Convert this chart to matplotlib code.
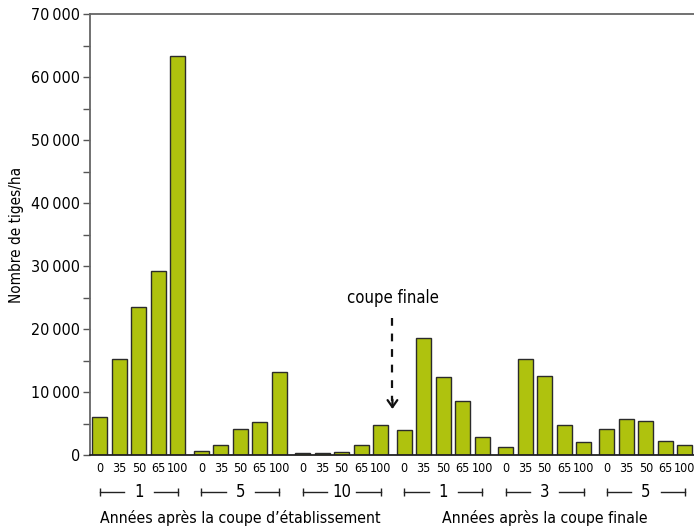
import matplotlib
matplotlib.use('Agg')
import matplotlib.pyplot as plt
import numpy as np

plt.rcParams['font.family'] = ['DejaVu Sans']
plt.rcParams['font.stretch'] = 'condensed'

# Data
treatments = ["0", "35", "50", "65", "100"]
group_labels = ["1", "5", "10", "1", "3", "5"]
etab_1 = [6000, 15300, 23500, 29200, 63300]
etab_5 = [600, 1600, 4100, 5200, 13200]
etab_10 = [300, 300, 500, 1600, 4700]
fin_1 = [4000, 18600, 12400, 8600, 2900]
fin_3 = [1200, 15200, 12500, 4700, 2000]
fin_5 = [4200, 5700, 5400, 2200, 1600]
groups = [etab_1, etab_5, etab_10, fin_1, fin_3, fin_5]
section_titles = ["Années après la coupe d\u2019établissement",
                  "Années après la coupe finale"]

bar_color = "#afc20e"
step = 5.2

fig = plt.figure(figsize=(6.94, 5.29), dpi=100)
ax = fig.add_axes([90/694, 74/529, 604/694, 441/529])

xpos = []
heights = []
labels = []
for g, vals in enumerate(groups):
    for i, v in enumerate(vals):
        xpos.append(g*step + i)
        heights.append(v)
        labels.append(treatments[i])

ax.bar(xpos, heights, width=0.77, color=bar_color, edgecolor="#2b2b2b",
       linewidth=1.0, zorder=2)

ax.set_xlim(-0.51, -0.51 + 604/19.5)
ax.set_ylim(0, 70000)

ax.set_xticks(xpos)
ax.set_xticklabels(labels, fontsize=9)
ax.tick_params(axis='x', length=0, pad=5)

yt = np.arange(0, 70001, 10000)
ax.set_yticks(yt)
ax.set_yticklabels(["0" if v == 0 else "%d\u2009%03d" % (v // 1000, v % 1000) for v in yt],
                   fontsize=11.5)
ax.set_yticks(np.arange(5000, 70000, 10000), minor=True)
ax.tick_params(axis='y', which='both', length=5, width=1, color="#555555", pad=2)
ax.set_ylabel("Nombre de tiges/ha", fontsize=11, labelpad=5)

ax.spines['right'].set_visible(False)
ax.spines['top'].set_color("#666666")
ax.spines['left'].set_color("#666666")
ax.spines['top'].set_linewidth(1.3)
ax.spines['left'].set_linewidth(1.3)
ax.spines['bottom'].set_color("#222222")
ax.spines['bottom'].set_linewidth(1.3)

# group brackets
tr = ax.get_xaxis_transform()
yb = -0.083
for g, lab in enumerate(group_labels):
    c = g*step + 2
    ax.plot([c - 2, c - 0.75], [yb, yb], transform=tr, color="#222222", lw=1,
            marker='|', markevery=[0], markersize=6, clip_on=False)
    ax.plot([c + 0.75, c + 2], [yb, yb], transform=tr, color="#222222", lw=1,
            marker='|', markevery=[1], markersize=6, clip_on=False)
    ax.text(c, yb, lab, transform=tr, ha='center', va='center', fontsize=12)

# section titles
for k, title in enumerate(section_titles):
    c = (k*3*step + (k*3 + 2)*step + 4) / 2
    ax.text(c, -0.142, title, transform=tr, ha='center', va='center', fontsize=11.3)

# final cut arrow
xa = (2*step + 4 + 3*step) / 2
ax.text(xa, 24900, "coupe finale", ha='center', va='center', fontsize=12)
ax.plot([xa, xa], [21800, 8600], color="#111111", lw=1.6, dashes=(3.5, 3.5))
ax.annotate("", xy=(xa, 7300), xytext=(xa, 8800),
            arrowprops=dict(arrowstyle="->,head_length=0.5,head_width=0.35",
                            color="#111111", lw=1.6, shrinkA=0, shrinkB=0))

fig.savefig("out.png", dpi=100)
